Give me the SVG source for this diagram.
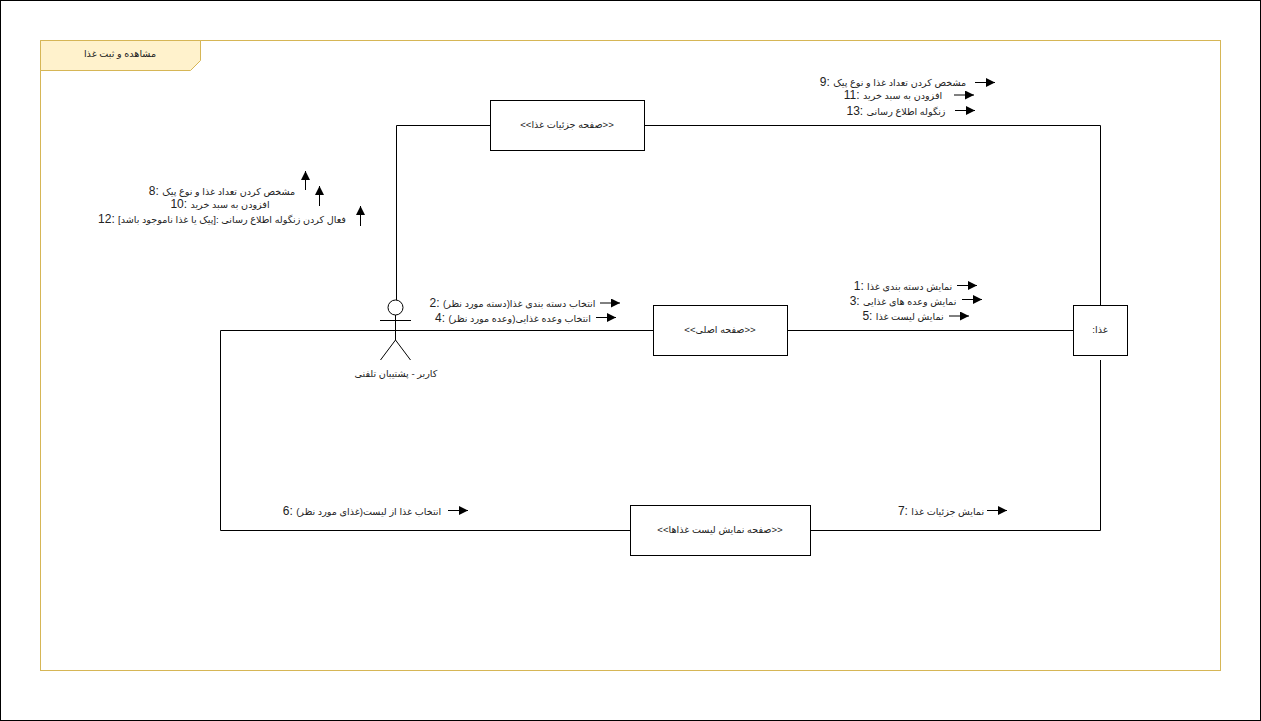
<svg xmlns="http://www.w3.org/2000/svg" width="1261" height="721" viewBox="0 0 1261 721">
<style>
text{font-family:"Liberation Sans","DejaVu Sans","Noto Sans",sans-serif;font-size:12px;fill:#222;text-anchor:middle;direction:ltr}
.f{font-size:9.600px}
.box{fill:#fff;stroke:#000;stroke-width:1}
.ln{fill:none;stroke:#000;stroke-width:1}
</style>
<defs>
<marker id="ah" markerUnits="userSpaceOnUse" markerWidth="11" markerHeight="10" refX="9" refY="4.500" orient="auto"><path d="M0 0L9 4.500L0 9Z" fill="#000"/></marker>
</defs>
<rect x="0.5" y="0.5" width="1260" height="720" fill="#fff" stroke="#000"/>
<g id="frame">
<rect x="40.5" y="40.5" width="1180" height="630" fill="none" stroke="#d6b656"/>
<path d="M40.5 40.5H200.5V60.5L190.5 70.5H40.5Z" fill="#fff2cc" stroke="#d6b656"/>
<text class="f" x="120" y="57">مشاهده و ثبت غذا</text>
</g>
<g id="connectors" class="ln">
<path d="M396.5 300V125.5H490"/>
<path d="M644 125.5H1100.5V305"/>
<path d="M653 330.5H220.5V530.5H630"/>
<path d="M787 330.5H1073"/>
<path d="M810 530.5H1100.5V360"/>
</g>
<g id="message-arrows" class="ln" marker-end="url(#ah)">
<path d="M975 82.500H995"/><path d="M954 95H974"/><path d="M955 110.500H975"/>
<path d="M305.500 190V171"/><path d="M319.500 206V186"/><path d="M360.500 226V206"/>
<path d="M600 303H620"/><path d="M596 317.500H616"/>
<path d="M957 285.500H977"/><path d="M962 299.500H982"/><path d="M949 316H969"/>
<path d="M448 510.500H468"/><path d="M987 510.500H1007"/>
</g>
<g id="message-labels">
<text x="893" y="86"><tspan>9: </tspan><tspan class="f">مشخص کردن تعداد غذا و نوع پیک</tspan></text>
<text x="893" y="99"><tspan>11: </tspan><tspan class="f">افزودن به سبد خرید</tspan></text>
<text x="896" y="115"><tspan>13: </tspan><tspan class="f">زنگوله اطلاع رسانی</tspan></text>
<text x="222" y="195"><tspan>8: </tspan><tspan class="f">مشخص کردن تعداد غذا و نوع پیک</tspan></text>
<text x="220" y="208"><tspan>10: </tspan><tspan class="f">افزودن به سبد خرید</tspan></text>
<text x="222" y="223"><tspan>12: </tspan><tspan class="f">فعال کردن زنگوله اطلاع رسانی :[پیک یا غذا ناموجود باشد]</tspan></text>
<text x="512.500" y="307"><tspan>2: </tspan><tspan class="f">انتخاب دسته بندی غذا(دسته مورد نظر)</tspan></text>
<text x="513" y="322"><tspan>4: </tspan><tspan class="f">انتخاب وعده غذایی(وعده مورد نظر)</tspan></text>
<text x="903" y="290"><tspan>1: </tspan><tspan class="f">نمایش دسته بندی غذا</tspan></text>
<text x="903" y="305"><tspan>3: </tspan><tspan class="f">نمایش وعده های غذایی</tspan></text>
<text x="903" y="320"><tspan>5: </tspan><tspan class="f">نمایش لیست غذا</tspan></text>
<text x="362" y="515"><tspan>6: </tspan><tspan class="f">انتخاب غذا از لیست(غذای مورد نظر)</tspan></text>
<text x="941" y="515"><tspan>7: </tspan><tspan class="f">نمایش جزئیات غذا</tspan></text>
</g>
<g id="node-details"><rect class="box" x="490.500" y="100.500" width="154" height="50"/><text class="f" x="567" y="128">&lt;&lt;صفحه جزئیات غذا&gt;&gt;</text></g>
<g id="node-main"><rect class="box" x="653.500" y="305.500" width="134" height="50"/><text class="f" x="720" y="333">&lt;&lt;صفحه اصلی&gt;&gt;</text></g>
<g id="node-list"><rect class="box" x="630.500" y="505.500" width="180" height="50"/><text class="f" x="720" y="533">&lt;&lt;صفحه نمایش لیست غذاها&gt;&gt;</text></g>
<g id="node-food"><rect class="box" x="1073.500" y="305.500" width="54" height="50"/><text class="f" x="1100" y="333">:غذا</text></g>
<g id="node-actor">
<circle cx="395.500" cy="307.500" r="7.500" fill="#fff" stroke="#000"/>
<path class="ln" d="M395.500 315V340M380 320.500H411M395.500 340L380.500 360M395.500 340L410.500 360"/>
<text class="f" x="396" y="377">کاربر - پشتیبان تلفنی</text>
</g>
</svg>
